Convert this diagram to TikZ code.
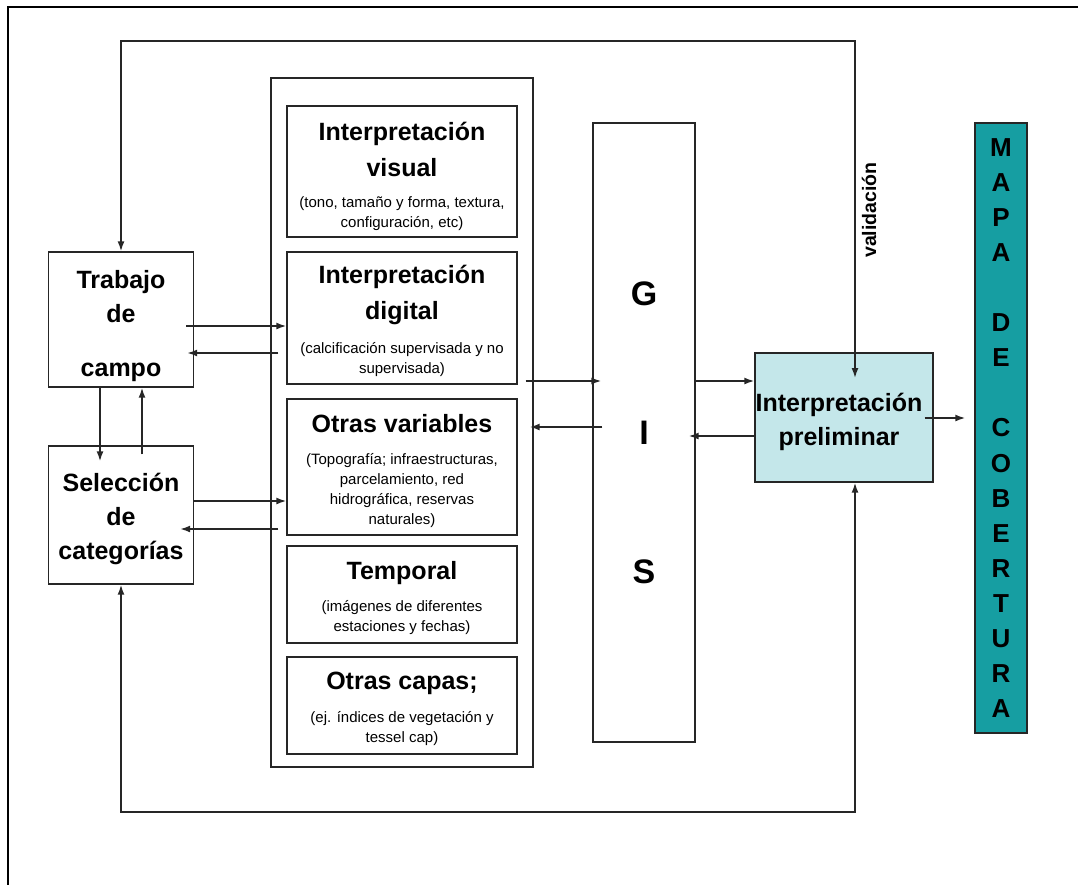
\documentclass[tikz,border=0pt]{standalone}
\usepackage{fontspec}
\setmainfont{Liberation Sans}
\usetikzlibrary{arrows.meta}
\definecolor{prelim}{RGB}{196,231,234}
\definecolor{mapacol}{RGB}{22,158,162}
\begin{document}
\begin{tikzpicture}[x=1pt,y=-1pt,
		caja/.style={draw=black!85,line width=1.4pt,inner sep=0pt},
		lado/.style={font=\fontsize{25}{34}\selectfont\bfseries,align=center,inner sep=0pt},
		titulo/.style={font=\fontsize{25}{36}\selectfont\bfseries,align=center,inner sep=0pt},
		nota/.style={font=\fontsize{15}{20}\selectfont,align=center,inner sep=0pt},
		punta/.tip={Latex[length=10pt,width=7pt]},
		flecha/.style={line width=1.6pt,black!85,-punta}]
		\useasboundingbox(0,0)rectangle(1078,884);
		\clip(0,0)rectangle(1078,884);
		\draw[line width=2.6pt](8,7)rectangle(1100,900);
		\node[caja,minimum width=145,minimum height=135](tc)at(121,319.5){};
		\node[caja,minimum width=145,minimum height=138](sc)at(121,515){};
		\node[lado,yshift=-7pt](tct)at(tc.center){Trabajo\\de\\[20pt]campo};
		\node[lado,yshift=-4pt](sct)at(sc.center){Selección\\de\\categorías};
		\node[caja,minimum width=262,minimum height=689](cont)at(402,422.5){};
		\node[caja,minimum width=230,minimum height=131](vis)at(402,171.5){};
		\node[caja,minimum width=230,minimum height=132](dig)at(402,318){};
		\node[caja,minimum width=230,minimum height=136](otv)at(402,467){};
		\node[caja,minimum width=230,minimum height=97](tem)at(402,594.5){};
		\node[caja,minimum width=230,minimum height=97](otc)at(402,705.5){};
		\node[titulo](vist)at(402,149){Interpretación\\visual};
		\node[nota](visn)at(402,214){(tono, tamaño y forma, textura,\\configuración, etc)};
		\node[titulo](digt)at(402,295){Interpretación\\digital};
		\node[nota](dign)at(402,360){(calcificación supervisada y no\\supervisada)};
		\node[titulo](otvt)at(402,424){Otras variables};
		\node[nota](otvn)at(402,491){(Topografía; infraestructuras,\\parcelamiento, red\\hidrográfica, reservas\\naturales)};
		\node[titulo](temt)at(402,573){Temporal};
		\node[nota](temn)at(402,618){(imágenes de diferentes\\estaciones y fechas)};
		\node[titulo](otct)at(402,683){Otras capas;};
		\node[nota](otcn)at(402,729){(ej. índices de vegetación y\\tessel cap)};
		\node[caja,minimum width=102,minimum height=619,font=\fontsize{34}{139}\selectfont\bfseries,align=center](gis)at(644,432.5){G\\I\\S};
		\node[caja,fill=prelim,minimum width=178,minimum height=129](pre)at(844,417.5){};
		\node[lado,xshift=-5pt,yshift=-4pt](pret)at(pre.center){Interpretación\\preliminar};
		\node[caja,fill=mapacol,minimum width=52,minimum height=610,font=\fontsize{26}{35.1}\selectfont\bfseries,align=center](mapa)at(1001,428){M\\A\\P\\A\\[35.1pt]D\\E\\[35.1pt]C\\O\\B\\E\\R\\T\\U\\R\\A};
		\node[font=\fontsize{19.5}{19.5}\selectfont\bfseries,rotate=90](val)at(869,210){validación};
		\coordinate(arr)at(855,41);
		\coordinate(vtip)at(855,378);
		\coordinate(abj)at(855,812);
		\draw[flecha,punta-punta](tc.north)|-(arr)--(vtip);
		\draw[flecha,punta-punta](sc.south)|-(abj)--(abj|-pre.south);
		\draw[flecha]([xshift=-21pt]tc.south)--([xshift=-21pt,yshift=-16pt]sc.north);
		\draw[flecha]([xshift=21pt,yshift=-9pt]sc.north)--([xshift=21pt]tc.south);
		\draw[flecha]([xshift=-8pt]tc.east|-0,326)--(dig.west|-0,326);
		\draw[flecha]([xshift=-8pt]dig.west|-0,353)--([xshift=-7pt]tc.east|-0,353);
		\draw[flecha](sc.east|-0,501)--(otv.west|-0,501);
		\draw[flecha]([xshift=-8pt]otv.west|-0,529)--([xshift=-14pt]sc.east|-0,529);
		\draw[flecha]([xshift=8pt]dig.east|-0,381)--([xshift=9pt]gis.west|-0,381);
		\draw[flecha]([xshift=10pt]gis.west|-0,427)--([xshift=12pt]otv.east|-0,427);
		\draw[flecha](gis.east|-0,381)--(pre.west|-0,381);
		\draw[flecha](pre.west|-0,436)--([xshift=-7pt]gis.east|-0,436);
		\draw[flecha]([xshift=-9pt]pre.east|-0,418)--([xshift=-9pt]mapa.west|-0,418);
	\end{tikzpicture}
\end{document}
